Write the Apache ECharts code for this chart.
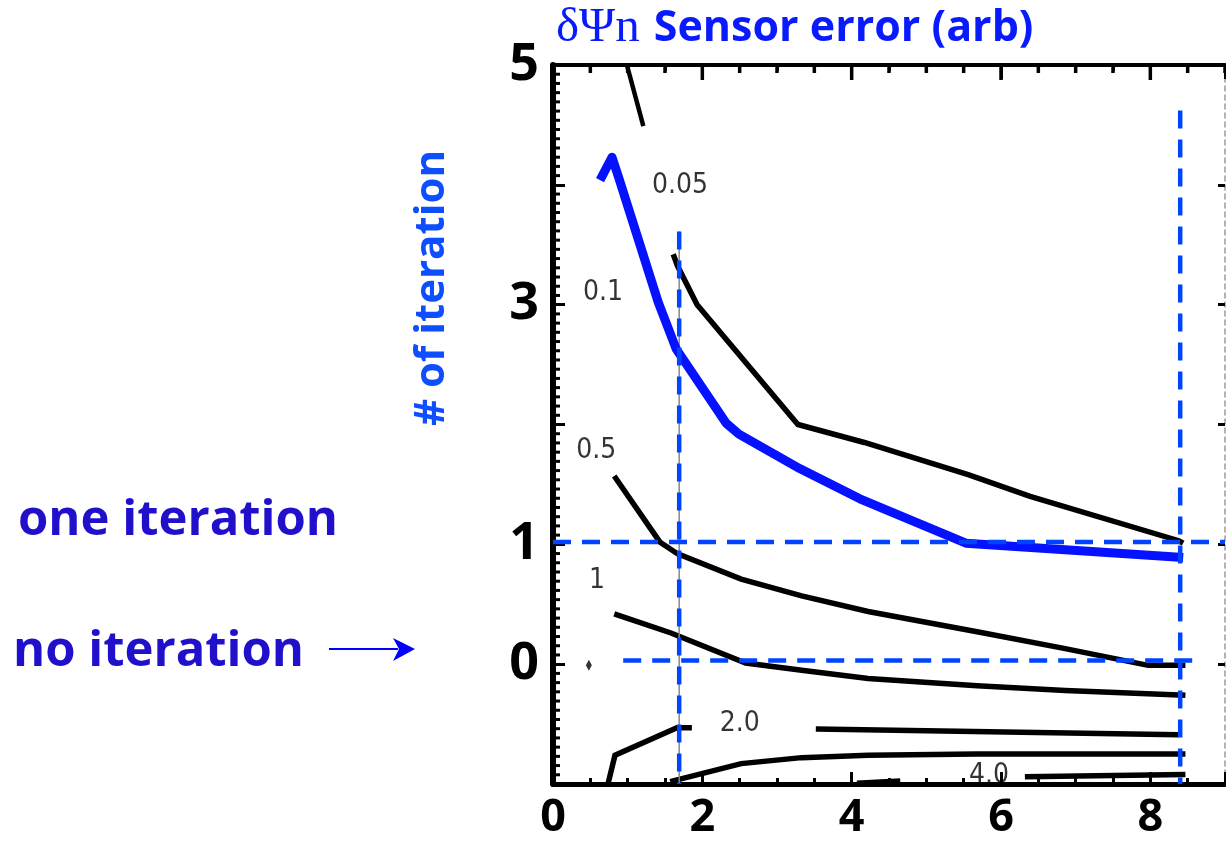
<!DOCTYPE html>
<html><head><meta charset="utf-8">
<script src="https://cdn.jsdelivr.net/npm/echarts@6/dist/echarts.min.js"></script>
<style>html,body{margin:0;padding:0;background:#fff}#c{width:1226px;height:841px}</style>
</head><body><div id="c"></div>
<script>
// ---- axis ranges / ticks ----
const xRange = [0, 9];
const yRange = [-1, 5];
const yTickLabels = {5: '5', 3: '3', 1: '1', 0: '0'};
const xMinorPerMajor = 4;   // x axis: minor tick every 0.5
const yMinorPerMajor = 13;  // y axis: 13 minor divisions per unit

// ---- curves (x = sensor error, y = # of iteration) ----
const blueCurve = [[0.63,4.04],[0.79,4.23],[0.88,4.06],[1.41,3.02],[1.65,2.63],[2.32,2.01],[2.49,1.92],[3.31,1.63],[4.11,1.38],[5.53,1.01],[8.44,0.89]];
const contourTop = [[0.99,5.0],[1.21,4.49]];
const contour005 = [[1.61,3.42],[1.67,3.32],[1.93,3.00],[3.28,2.00],[4.17,1.85],[5.57,1.58],[6.39,1.40],[8.38,1.03],[8.44,1.01]];
const contour05 = [[0.82,1.57],[1.43,1.02],[1.67,0.92],[2.52,0.71],[3.33,0.57],[4.22,0.44],[5.68,0.27],[6.86,0.13],[7.97,-0.01],[8.47,-0.01]];
const contour1 = [[0.82,0.42],[1.58,0.26],[2.58,0.01],[3.33,-0.05],[4.22,-0.12],[5.68,-0.18],[6.86,-0.22],[8.47,-0.26]];
const contour2Left = [[0.74,-0.99],[0.83,-0.76],[1.66,-0.53],[1.86,-0.53]];
const contour2Right = [[3.52,-0.54],[8.38,-0.59]];
const contour3 = [[1.57,-0.98],[2.52,-0.83],[3.33,-0.78],[4.22,-0.76],[5.68,-0.75],[8.47,-0.75]];
const contour4Left = [[4.07,-0.99],[4.65,-0.97]];
const contour4Right = [[6.32,-0.94],[8.47,-0.92]];
const smallMark = [[0.48,-0.01]];

// ---- contour labels ----
const contourLabels = [[1.70,3.99,'0.05'],[0.67,3.10,'0.1'],[0.58,1.78,'0.5'],[0.59,0.70,'1'],[2.50,-0.50,'2.0'],[5.84,-0.93,'4.0']];

// ---- reference (dashed) lines ----
const vLineA = [[1.69,3.61],[1.69,-1]];
const vLineB = [[8.40,4.62],[8.40,-1]];
const hLineC = [[0,1.02],[9,1.02]];
const hLineD = [[0.94,0.03],[8.64,0.03]];

// tick positions along the frame (axis ticks, not data)
const topTicks = [];
for (let i = 0; i <= (xRange[1] - xRange[0]) * 2; i++) {
  const v = xRange[0] + i * 0.5;
  topTicks.push([v, v % 2 === 0 ? 1 : 0]);
}
const leftMinorTicks = [];
for (let k = 0; k < (yRange[1] - yRange[0]) * yMinorPerMajor; k++) {
  if (k % yMinorPerMajor === 0) continue;
  leftMinorTicks.push([xRange[0], yRange[0] + k / yMinorPerMajor]);
}

const chart = echarts.init(document.getElementById('c'), null, {renderer: 'canvas'});
const black = '#000';
const dashBlue = '#0044ff';
const lineS = (data, w, color, extra) => Object.assign({
  type: 'line', data: data, symbol: 'none', silent: true, animation: false,
  lineStyle: {color: color || black, width: w || 5.5, cap: 'butt', join: 'miter'}, z: 3
}, extra || {});
const dashS = (data) => lineS(data, 4.5, dashBlue, {lineStyle: {color: dashBlue, width: 4.5, type: [18, 11]}, z: 6});

const baseX = {
  type: 'value', min: xRange[0], max: xRange[1], interval: 2,
  splitLine: {show: false},
  axisLine: {show: true, onZero: false, lineStyle: {color: black, width: 5}},
  axisTick: {show: true, inside: true, length: 12, lineStyle: {color: black, width: 3}},
  minorTick: {show: true, splitNumber: xMinorPerMajor, length: 6, lineStyle: {color: black, width: 3}}
};
const baseY = {
  type: 'value', min: yRange[0], max: yRange[1], interval: 1,
  splitLine: {show: false},
  axisLine: {show: true, onZero: false, lineStyle: {color: black, width: 6}},
  axisTick: {show: true, inside: true, length: 12, lineStyle: {color: black, width: 3}},
  minorTick: {show: false}
};

chart.setOption({
  animation: false,
  grid: {left: 553, top: 65, right: 1, bottom: 55, containLabel: false},
  xAxis: [
    Object.assign({}, baseX, {position: 'bottom',
      axisLabel: {show: true, showMaxLabel: false, margin: 12, color: black, fontFamily: 'Open Sans', fontWeight: 'bold', fontSize: 45}}),
    Object.assign({}, baseX, {position: 'top', axisLabel: {show: false},
      axisLine: {show: true, onZero: false, lineStyle: {color: black, width: 4}},
      axisTick: {show: true, inside: true, length: 14, lineStyle: {color: black, width: 3}}})
  ],
  yAxis: [
    Object.assign({}, baseY, {position: 'left',
      axisLabel: {show: true, margin: 14, color: black, fontFamily: 'Open Sans', fontWeight: 'bold', fontSize: 52,
        padding: [0, 0, 12, 0],
        formatter: v => (yTickLabels[v] !== undefined ? yTickLabels[v] : '')}}),
    Object.assign({}, baseY, {position: 'right', axisLabel: {show: false},
      axisLine: {show: true, onZero: false, lineStyle: {color: '#9a9a9a', width: 1.5, type: [5, 4]}},
      axisTick: {show: true, inside: true, length: 7, lineStyle: {color: black, width: 3}}})
  ],
  graphic: [
    {type: 'text', left: 556, top: 4, silent: true, style: {
      text: '{a|δΨn}{s| }{b|Sensor error (arb)}',
      rich: {
        a: {fontFamily: 'Liberation Serif', fontSize: 49, fill: '#0a1aff'},
        s: {fontSize: 16, width: 14},
        b: {fontFamily: 'Open Sans', fontWeight: 'bold', fontSize: 43, fill: '#0a1aff'}
      }}},
    {type: 'text', x: 432, y: 288, rotation: Math.PI / 2, silent: true, style: {
      text: '# of iteration', fontFamily: 'Open Sans', fontWeight: 'bold', fontSize: 42,
      fill: '#0d4fff', align: 'center', verticalAlign: 'middle'}},
    {type: 'text', x: 18, y: 521, silent: true, style: {
      text: 'one iteration', fontFamily: 'Open Sans', fontWeight: 'bold', fontSize: 49,
      fill: '#2010cc', align: 'left', verticalAlign: 'middle'}},
    {type: 'text', x: 13, y: 652, silent: true, style: {
      text: 'no iteration', fontFamily: 'Open Sans', fontWeight: 'bold', fontSize: 49,
      fill: '#2010cc', align: 'left', verticalAlign: 'middle'}},
    {type: 'line', silent: true, shape: {x1: 329, y1: 649, x2: 398, y2: 649},
      style: {stroke: '#0000ff', lineWidth: 2.2}},
    {type: 'polygon', silent: true, shape: {points: [[393,638],[415,649],[393,661],[399,649]]},
      style: {fill: '#0000ff'}}
  ],
  series: [
    // frame ticks drawn through the axis scales
    {type: 'custom', data: topTicks, silent: true, clip: false, z: 8,
      renderItem: (params, api) => {
        const p = api.coord([api.value(0), yRange[1]]);
        const len = api.value(1) ? 15 : 8;
        return {type: 'line', shape: {x1: p[0], y1: p[1], x2: p[0], y2: p[1] + len},
          style: {stroke: black, lineWidth: 3.5}};
      }},
    {type: 'custom', data: leftMinorTicks, silent: true, clip: false, z: 8,
      renderItem: (params, api) => {
        const p = api.coord([api.value(0), api.value(1)]);
        return {type: 'line', shape: {x1: p[0], y1: p[1], x2: p[0] + 7, y2: p[1]},
          style: {stroke: black, lineWidth: 3}};
      }},
    lineS(contourTop, 4.5),
    lineS(contour005),
    lineS(contour05),
    lineS(contour1),
    lineS(contour2Left),
    lineS(contour2Right),
    lineS(contour3),
    lineS(contour4Left, 4.5),
    lineS(contour4Right),
    lineS(vLineA, 1.5, '#888888', {z: 4}),
    lineS(blueCurve, 9, '#0511ff', {z: 5, lineStyle: {color: '#0511ff', width: 9, join: 'round', cap: 'butt'}}),
    {type: 'scatter', data: smallMark, symbol: 'diamond', symbolSize: [6, 11], silent: true,
      itemStyle: {color: black}, z: 3},
    {type: 'scatter', data: contourLabels, symbolSize: 1, silent: true,
      itemStyle: {color: 'rgba(0,0,0,0)'}, z: 7,
      label: {show: true, position: 'inside', formatter: p => p.data[2],
        color: black, fontFamily: 'DejaVu Sans Condensed', fontSize: 28}},
    dashS(vLineA),
    dashS(vLineB),
    dashS(hLineC),
    dashS(hLineD)
  ]
});
</script>
</body></html>
